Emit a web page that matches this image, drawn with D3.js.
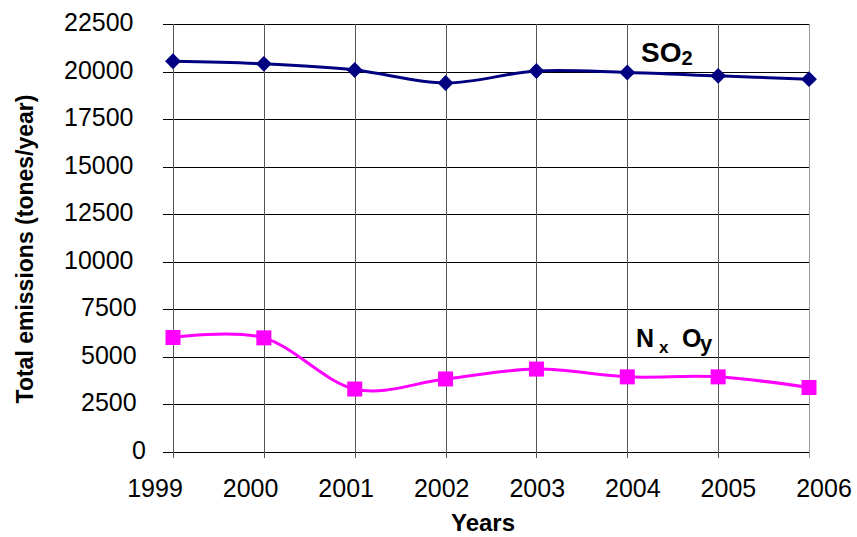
<!DOCTYPE html>
<html>
<head>
<meta charset="utf-8">
<script src="https://cdn.jsdelivr.net/npm/d3@7"></script>
<style>
  body { margin: 0; background: #fff; }
  svg text { font-family: "Liberation Sans", Arial, sans-serif; }
</style>
</head>
<body>
<svg id="chart" width="857" height="537"></svg>
<script>
// Annual emissions, tonnes per year
const years = [1999, 2000, 2001, 2002, 2003, 2004, 2005, 2006];
const so2 = [20540, 20405, 20080, 19400, 20030, 19950, 19775, 19600];
const nxoy = [6020, 6000, 3310, 3840, 4360, 3950, 3950, 3390];
const yTicks = [0, 2500, 5000, 7500, 10000, 12500, 15000, 17500, 20000, 22500];

const svg = d3.select("#chart");
const W = 857, H = 537;
const plot = { left: 173, right: 809, top: 24, bottom: 452 };

const x = d3.scaleLinear().domain([1999, 2006]).range([plot.left, plot.right]);
const y = d3.scaleLinear().domain([0, 22500]).range([plot.bottom, plot.top]);
// year labels sit on a slightly wider spacing than the gridlines
const xLabel = d3.scaleLinear().domain([1999, 2006]).range([155, 824]);

// Horizontal gridlines with outer tick stubs
svg.append("g").selectAll("line").data(yTicks).join("line")
  .attr("x1", plot.left - 10).attr("x2", plot.right)
  .attr("y1", d => Math.round(y(d)) + 0.5).attr("y2", d => Math.round(y(d)) + 0.5)
  .attr("stroke", "#000").attr("stroke-width", 1);

// Vertical gridlines, one per year
svg.append("g").selectAll("line").data(years).join("line")
  .attr("x1", d => Math.round(x(d)) + 0.5).attr("x2", d => Math.round(x(d)) + 0.5)
  .attr("y1", plot.top).attr("y2", plot.bottom + 6)
  .attr("stroke", d => d === 2006 ? "#999" : "#555").attr("stroke-width", 1);

// Y tick labels (start-anchored, fixed advance per digit)
svg.append("g").selectAll("text").data(yTicks).join("text")
  .attr("x", d => 149 - 17 * String(d).length).attr("y", d => y(d) + 7)
  .attr("font-size", 25).attr("fill", "#000")
  .text(d => d);

// X tick labels
svg.append("g").selectAll("text").data(years).join("text")
  .attr("x", d => xLabel(d)).attr("y", 497)
  .attr("text-anchor", "middle").attr("font-size", 25).attr("fill", "#000")
  .text(d => d);

// Axis titles
svg.append("text").attr("x", 483).attr("y", 531)
  .attr("text-anchor", "middle").attr("font-size", 24).attr("font-weight", "bold")
  .text("Years");
svg.append("text").attr("transform", "translate(33, 249) rotate(-90)")
  .attr("text-anchor", "middle").attr("font-size", 23).attr("font-weight", "bold")
  .text("Total emissions (tones/year)");

const line = d3.line().curve(d3.curveCardinal.tension(0))
  .x((d, i) => x(years[i])).y(d => y(d));

// SO2 series
svg.append("path").datum(so2).attr("d", line)
  .attr("fill", "none").attr("stroke", "#000080").attr("stroke-width", 3);
svg.append("g").selectAll("path").data(so2).join("path")
  .attr("d", d3.symbol(d3.symbolDiamond2, 160))
  .attr("transform", (d, i) => `translate(${x(years[i])},${y(d)})`)
  .attr("fill", "#000080");

// NxOy series
svg.append("path").datum(nxoy).attr("d", line)
  .attr("fill", "none").attr("stroke", "#FF00FF").attr("stroke-width", 3);
svg.append("g").selectAll("rect").data(nxoy).join("rect")
  .attr("x", (d, i) => x(years[i]) - 7.5).attr("y", d => y(d) - 7.5)
  .attr("width", 15).attr("height", 15).attr("fill", "#FF00FF");

// Series labels
const so2Label = svg.append("text").attr("x", 641).attr("y", 62)
  .attr("font-size", 28).attr("font-weight", "bold").attr("fill", "#000");
so2Label.append("tspan").text("SO");
so2Label.append("tspan").attr("font-size", 20).attr("dy", 3).text("2");

const nLabel = svg.append("text").attr("y", 347)
  .attr("font-size", 25).attr("font-weight", "bold").attr("fill", "#000");
nLabel.append("tspan").attr("x", 636).text("N");
nLabel.append("tspan").attr("x", 659).attr("font-size", 17).attr("dy", 6).text("x");
nLabel.append("tspan").attr("x", 682).attr("dy", -6).text("O");
nLabel.append("tspan").attr("x", 700).attr("font-size", 22).attr("dy", 4).text("y");
</script>
</body>
</html>
